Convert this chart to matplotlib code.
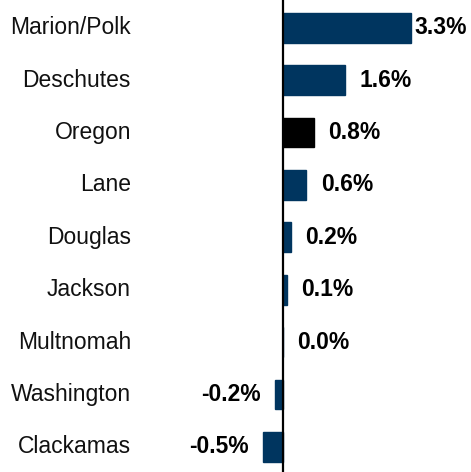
import matplotlib
matplotlib.use("Agg")
import matplotlib.pyplot as plt
import matplotlib.transforms as mtransforms

regions = ["Marion/Polk", "Deschutes", "Oregon", "Lane", "Douglas",
           "Jackson", "Multnomah", "Washington", "Clackamas"]
growth = [3.3, 1.6, 0.8, 0.6, 0.2, 0.1, 0.0, -0.2, -0.5]
bar_colors = ["#00355f", "#00355f", "#000000", "#00355f", "#00355f",
              "#00355f", "#00355f", "#00355f", "#00355f"]

plt.rcParams['font.family'] = ['Liberation Sans', 'DejaVu Sans']

fig = plt.figure(figsize=(4.71, 4.72), dpi=100)
ax = fig.add_axes([0, 0, 1, 1])

ypos = list(range(len(regions)))
ax.barh(ypos, growth, height=0.57, color=bar_colors, edgecolor=bar_colors)
ax.axvline(0, color="black", lw=1.6)

ax.set_xlim(-7.29, 4.85)
ax.set_ylim(8.48, -0.53)
ax.axis("off")

# category names, right aligned left of the plot
lab_tr = mtransforms.blended_transform_factory(ax.transAxes, ax.transData)
for y, name in zip(ypos, regions):
    ax.text(131 / 471, y, name, transform=lab_tr, ha="right", va="center",
            fontsize=16.5, color="#111111")

# value labels
for y, v in zip(ypos, growth):
    gap = 2.5 if v == max(growth) else 10.5
    if v < 0:
        ax.annotate(f"{v:.1f}%", (v, y), xytext=(-gap, 0), textcoords="offset points",
                    ha="right", va="center", fontsize=16.5, fontweight="bold")
    else:
        ax.annotate(f"{v:.1f}%", (v, y), xytext=(gap, 0), textcoords="offset points",
                    ha="left", va="center", fontsize=16.5, fontweight="bold")

fig.savefig("out.png", dpi=100)
